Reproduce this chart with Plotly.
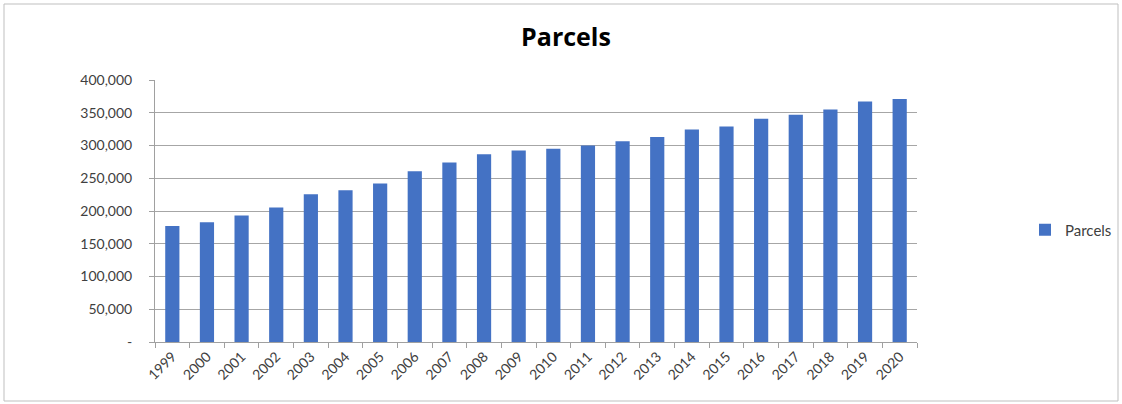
import plotly.graph_objects as go

years = [str(y) for y in range(1999, 2021)]
parcels = [177000, 183000, 193000, 205500, 225500, 231500, 242000, 260500, 274000, 286500,
           292500, 295000, 300000, 306500, 313000, 324500, 329000, 341000, 347000, 355000,
           367000, 371000]
y_tickvals = [0, 50000, 100000, 150000, 200000, 250000, 300000, 350000, 400000]
y_ticktext = ["-", "50,000", "100,000", "150,000", "200,000", "250,000", "300,000", "350,000", "400,000"]

W, H = 1122, 404
L, R, T, B = 155, 205, 80, 62
pw, ph = W - L - R, H - T - B

def px_x(x):
    return (x - L) / pw

def px_y(y):
    return (H - B - y) / ph

fig = go.Figure()
fig.add_trace(go.Bar(x=years, y=parcels, name="Parcels", marker_color="#4472C4",
                     marker_line_width=0))

font_family = "Lato, 'Open Sans', sans-serif"
fig.update_layout(
    width=W, height=H,
    margin=dict(l=L, r=R, t=T, b=B, autoexpand=False),
    paper_bgcolor="white", plot_bgcolor="white",
    bargap=0.59,
    showlegend=True,
    title=dict(text="<b>Parcels</b>", x=566 / W, xref="container", xanchor="center",
               y=1 - 37 / H, yanchor="middle",
               font=dict(family="'Open Sans', sans-serif", size=25, color="#000000")),
    legend=dict(x=1025 / W, xref="container", xanchor="left",
                y=1 - 230 / H, yref="container", yanchor="middle",
                font=dict(family=font_family, size=15, color="#404040"),
                bgcolor="rgba(0,0,0,0)", itemwidth=30),
    font=dict(family=font_family, size=14, color="#404040"),
    xaxis=dict(type="category", tickangle=-45, showgrid=False,
               showline=True, linecolor="#a0a0a0", linewidth=1,
               ticks="outside", ticklen=5, tickcolor="#a0a0a0",
               tickson="boundaries", automargin=False,
               tickfont=dict(family=font_family, size=14, color="#404040")),
    yaxis=dict(range=[0, 400000], tickvals=y_tickvals, ticktext=y_ticktext,
               showgrid=True, gridcolor="#a6a6a6", gridwidth=1,
               showline=True, linecolor="#a0a0a0", linewidth=1,
               ticks="outside", ticklen=5, tickcolor="#a0a0a0",
               ticklabelstandoff=14, zeroline=False, automargin=False,
               tickfont=dict(family=font_family, size=14, color="#404040")),
    shapes=[dict(type="rect", xref="paper", yref="paper",
                 x0=px_x(4), x1=px_x(1118), y0=px_y(401), y1=px_y(4),
                 line=dict(color="#bfbfbf", width=1), fillcolor="rgba(0,0,0,0)",
                 layer="below")],
)

fig.write_html("out.html")
